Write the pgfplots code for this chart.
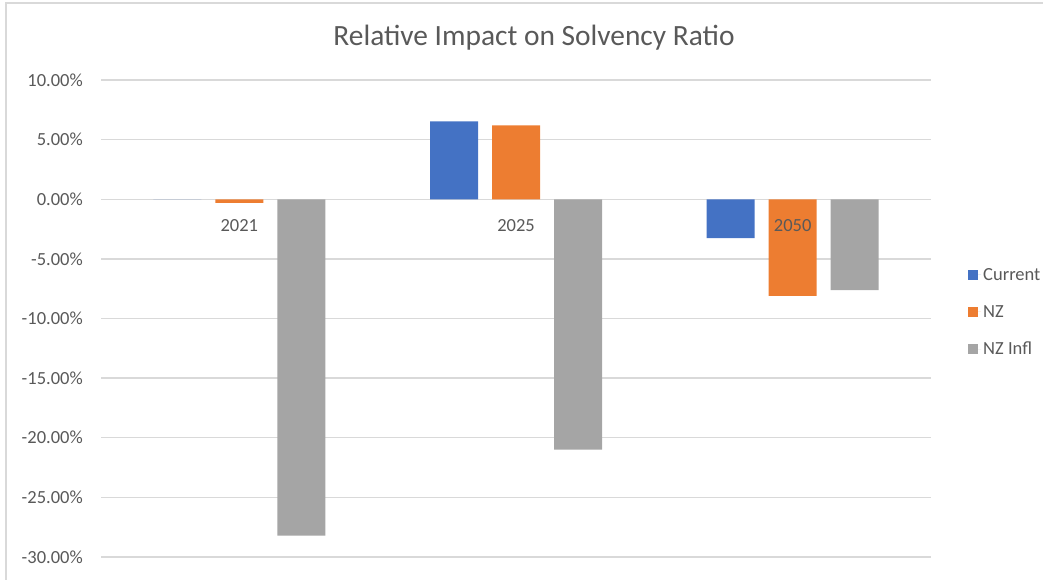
\documentclass[border=0pt]{standalone}
\usepackage{fontspec}
\setmainfont{Carlito}
\usepackage{pgfplots}
\pgfplotsset{compat=1.18}
\definecolor{cblue}{HTML}{4472C4}
\definecolor{corange}{HTML}{ED7D31}
\definecolor{cgray}{HTML}{A5A5A5}
\definecolor{gridgray}{HTML}{D9D9D9}
\definecolor{textgray}{HTML}{595959}
\begin{document}
\begin{tikzpicture}
\path[use as bounding box] (0pt,0pt) rectangle (1043pt,579pt);
% chart area border (left and top edges visible)
\draw[gridgray, line width=1.5pt] (6pt,-20pt) -- (6pt,576pt) -- (1100pt,576pt);
\node[text=textgray, font=\fontsize{29.4}{34}\selectfont] at (534pt,541pt) {Relative Impact on Solvency Ratio};
\begin{axis}[
    at={(101pt,22pt)}, anchor=south west,
    scale only axis, width=830pt, height=477pt,
    ybar=14pt, bar width=48pt,
    xmin=-0.5, xmax=2.5,
    ymin=-30, ymax=10,
    xtick=\empty,
    ytick={-30,-25,-20,-15,-10,-5,0,5,10},
    axis line style={draw=none},
    major tick length=0pt,
    ymajorgrids=true,
    grid style={gridgray, line width=1.3pt},
    /pgf/number format/assume math mode=true,
    yticklabel={\pgfmathprintnumber[fixed,fixed zerofill,precision=2]{\tick}\%},
    yticklabel style={font=\fontsize{18.5}{22}\selectfont, text=textgray, inner sep=0pt, xshift=-18pt},
    legend style={at={(1.041,0.513)}, anchor=west, draw=none, fill=none,
        font=\fontsize{18.5}{22}\selectfont, text=textgray, row sep=19.5pt},
    legend cell align=left,
    legend image code/.code={\fill[#1] (0pt,-5pt) rectangle (10pt,5pt); \path (0pt,0pt) -- (13pt,0pt);},
]
\addplot[fill=cblue, draw=none] coordinates {(0,0) (1,6.54) (2,-3.27)};
\addplot[fill=corange, draw=none] coordinates {(0,-0.3) (1,6.2) (2,-8.1)};
\addplot[fill=cgray, draw=none] coordinates {(0,-28.2) (1,-21.0) (2,-7.63)};
\legend{Current, NZ, NZ Infl}
\node[anchor=base, yshift=-32pt, text=textgray, font=\fontsize{18.5}{22}\selectfont] at (axis cs:0,0) {2021};
\node[anchor=base, yshift=-32pt, text=textgray, font=\fontsize{18.5}{22}\selectfont] at (axis cs:1,0) {2025};
\node[anchor=base, yshift=-32pt, text=textgray, font=\fontsize{18.5}{22}\selectfont] at (axis cs:2,0) {2050};
\end{axis}
\end{tikzpicture}
\end{document}
